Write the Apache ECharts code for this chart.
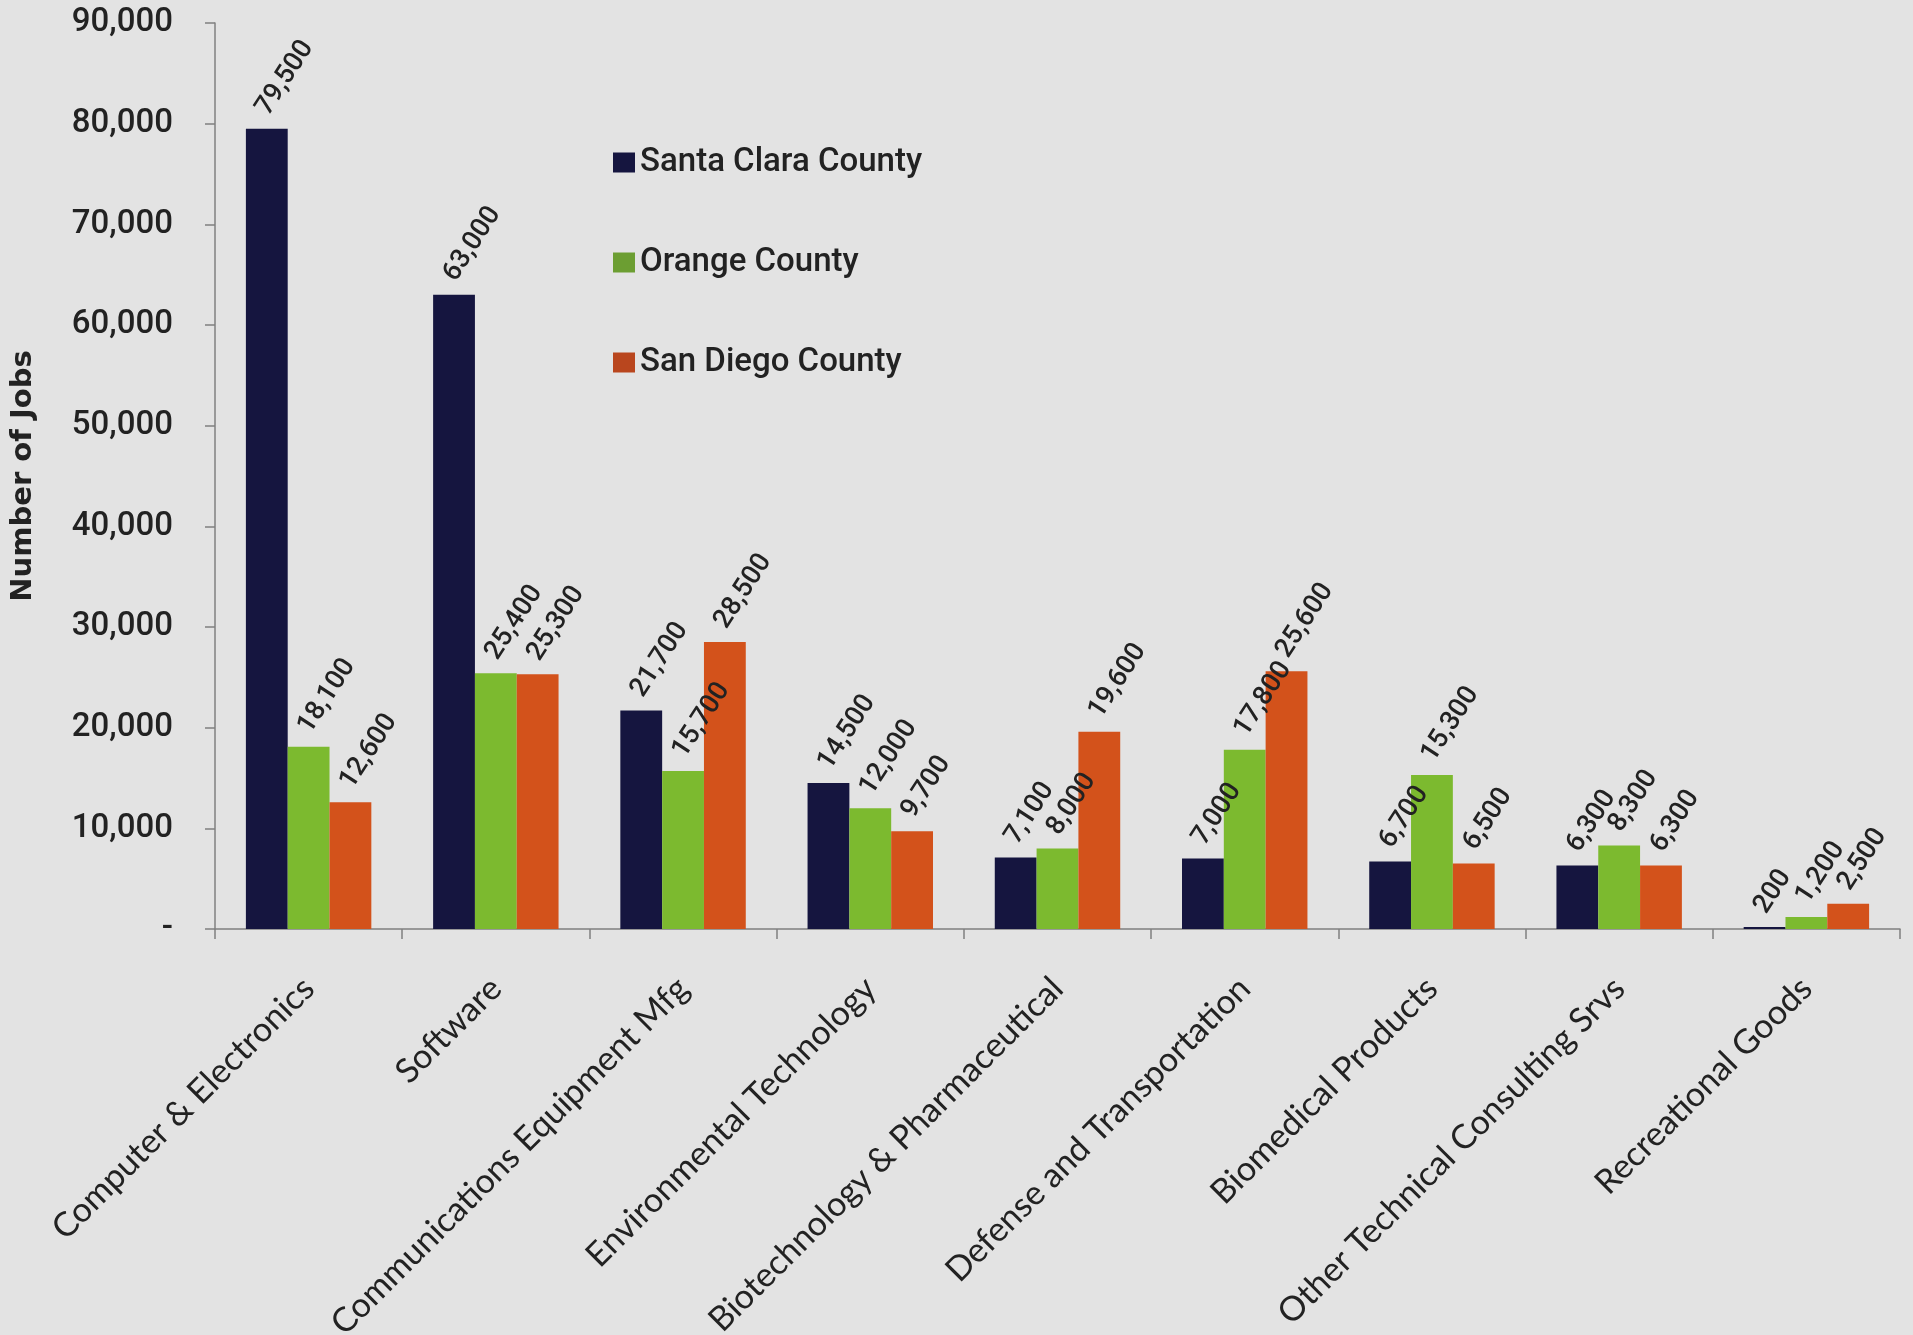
<!DOCTYPE html>
<html>
<head>
<meta charset="utf-8">
<title>High-Tech Jobs by County</title>
<script src="https://cdn.jsdelivr.net/npm/echarts@6/dist/echarts.min.js"></script>
<style>
  html, body { margin: 0; padding: 0; background: #e3e3e3; }
  #chart { width: 1913px; height: 1335px; }
</style>
</head>
<body>
<div id="chart"></div>
<script>
// Industry clusters along the x axis
const categories = [
  'Computer & Electronics',
  'Software',
  'Communications Equipment Mfg',
  'Environmental Technology',
  'Biotechnology & Pharmaceutical',
  'Defense and Transportation',
  'Biomedical Products',
  'Other Technical Consulting Srvs',
  'Recreational Goods'
];

// Number of jobs per county
const santaClara = [79500, 63000, 21700, 14500, 7100, 7000, 6700, 6300, 200];
const orangeCounty = [18100, 25400, 15700, 12000, 8000, 17800, 15300, 8300, 1200];
const sanDiego = [12600, 25300, 28500, 9700, 19600, 25600, 6500, 6300, 2500];

const seriesNames = ['Santa Clara County', 'Orange County', 'San Diego County'];
const yTicks = { min: 0, max: 90000, step: 10000 };

const fmt = v => Number(v).toLocaleString('en-US');

const barLabel = {
  show: true,
  position: ['40%', -16],
  rotate: 57,
  align: 'left',
  verticalAlign: 'middle',
  fontFamily: 'Roboto',
  fontSize: 27,
  fontWeight: 500,
  color: '#222',
  formatter: p => fmt(p.value)
};

function barSeries(name, data, color) {
  return {
    name: name,
    type: 'bar',
    data: data,
    barGap: '0%',
    barCategoryGap: '33%',
    itemStyle: { color: color },
    label: barLabel
  };
}

const chart = echarts.init(document.getElementById('chart'), null, { renderer: 'canvas' });

chart.setOption({
  backgroundColor: '#e3e3e3',
  animation: false,
  grid: { left: 215, right: 13, top: 23, bottom: 406, containLabel: false, outerBoundsMode: 'none' },
  legend: {
    orient: 'vertical',
    left: 608,
    top: 141,
    itemWidth: 22,
    itemHeight: 20,
    itemGap: 67,
    icon: 'rect',
    textStyle: { fontFamily: 'Roboto', fontSize: 33, fontWeight: 500, color: '#222', lineHeight: 33 },
    data: [
      { name: seriesNames[0], itemStyle: { color: '#15153f' } },
      { name: seriesNames[1], itemStyle: { color: '#6c9e32' } },
      { name: seriesNames[2], itemStyle: { color: '#b9461e' } }
    ]
  },
  xAxis: {
    type: 'category',
    data: categories,
    axisLine: { lineStyle: { color: '#808080', width: 1.5 } },
    axisTick: { show: true, length: 10, lineStyle: { color: '#808080', width: 1.5 } },
    axisLabel: {
      interval: 0,
      rotate: 45,
      margin: 54,
      align: 'right',
      verticalAlign: 'middle',
      fontFamily: 'Lato',
      fontSize: 34,
      color: '#222'
    }
  },
  yAxis: {
    type: 'value',
    min: yTicks.min,
    max: yTicks.max,
    interval: yTicks.step,
    name: 'Number of Jobs',
    nameLocation: 'middle',
    nameGap: 177,
    nameRotate: 90,
    nameTextStyle: { fontFamily: 'DejaVu Sans', fontWeight: 'bold', fontSize: 29, color: '#222' },
    splitLine: { show: false },
    axisLine: { show: true, lineStyle: { color: '#808080', width: 1.5 } },
    axisTick: { show: true, length: 10, lineStyle: { color: '#808080', width: 1.5 } },
    axisLabel: {
      margin: 42,
      fontFamily: 'Roboto',
      fontSize: 33,
      fontWeight: 500,
      color: '#222',
      formatter: v => (v === 0 ? '-' : fmt(v))
    }
  },
  series: [
    barSeries(seriesNames[0], santaClara, '#15153f'),
    barSeries(seriesNames[1], orangeCounty, '#7cba2f'),
    barSeries(seriesNames[2], sanDiego, '#d3521b')
  ]
});
</script>
</body>
</html>
